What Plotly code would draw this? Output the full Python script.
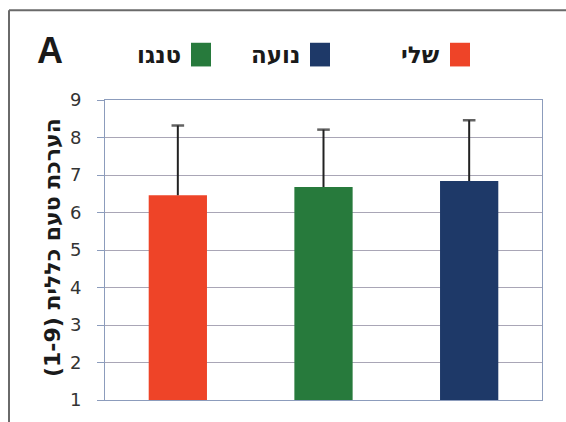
import plotly.graph_objects as go

# Overall taste rating (1-9) per product, with upward standard-deviation bars
categories = ["שלי", "טנגו", "נועה"]
means = [6.46, 6.68, 6.84]
sd = [1.86, 1.53, 1.62]
colors = ["#ee4428", "#277a3c", "#1e3968"]

# Legend entries, drawn right-to-left
legend_names = ["שלי", "נועה", "טנגו"]
legend_colors = ["#ee4428", "#1e3968", "#277a3c"]

y_ticks = [1, 2, 3, 4, 5, 6, 7, 8, 9]

W, H = 566, 422
L, R, T, B = 105, 24, 100, 18
PW, PH = W - L - R, H - T - B


def px_x(x):
    return (x - L) / PW


def px_y(y):
    return (H - B - y) / PH


fig = go.Figure()
fig.add_trace(go.Bar(
    x=categories,
    y=means,
    marker=dict(color=colors, line=dict(width=0)),
    showlegend=False,
    hoverinfo="skip",
))

# Upward error whiskers: a line from the bar top with a cap at mean + sd
for cat, m, s in zip(categories, means, sd):
    fig.add_trace(go.Scatter(
        x=[cat, cat], y=[m, m + s],
        mode="lines+markers",
        line=dict(color="#222222", width=2),
        marker=dict(symbol="line-ew", size=[0, 9], color="#222222",
                    line=dict(color="#222222", width=2.5)),
        showlegend=False, hoverinfo="skip",
    ))

axis_col = "#8c9cbc"
fig.update_layout(
    width=W, height=H,
    margin=dict(l=L, r=R, t=T, b=B),
    paper_bgcolor="white", plot_bgcolor="white",
    bargap=0.6,
    xaxis=dict(showticklabels=False, showgrid=False, showline=True,
               linecolor=axis_col, linewidth=1, mirror=True, ticks=""),
    yaxis=dict(range=[1, 9], tickvals=y_ticks, showgrid=True,
               gridcolor="#a9a6b6", gridwidth=1, showline=True,
               linecolor=axis_col, linewidth=1, mirror=True,
               ticks="outside", ticklen=7, tickcolor=axis_col,
               tickfont=dict(family="DejaVu Sans", size=18, color="#333333"),
               ticklabelstandoff=12, zeroline=False),
    font=dict(family="DejaVu Sans"),
)

# Outer frame of the panel
fig.add_shape(type="line", xref="paper", yref="paper",
              x0=px_x(9), x1=px_x(9), y0=px_y(9), y1=px_y(H + 5),
              line=dict(color="#6a6a6a", width=2))
fig.add_shape(type="line", xref="paper", yref="paper",
              x0=px_x(9), x1=px_x(W + 5), y0=px_y(9), y1=px_y(9),
              line=dict(color="#6a6a6a", width=2))

# Panel letter
fig.add_annotation(x=px_x(50), y=px_y(50), xref="paper", yref="paper",
                   text="A", showarrow=False,
                   font=dict(family="Liberation Sans", size=36,
                             color="#1a1a1a", weight=700),
                   xanchor="center", yanchor="middle")

# Y-axis title
fig.add_annotation(x=px_x(52), y=px_y(250), xref="paper", yref="paper",
                   text="הערכת טעם כללית (1-9)", textangle=-90,
                   showarrow=False,
                   font=dict(family="DejaVu Sans", size=22,
                             color="#1a1a1a", weight=700),
                   xanchor="center", yanchor="middle")

# Legend: square to the right of each label
square_right = [470, 330, 211]
for name, col, sx in zip(legend_names, legend_colors, square_right):
    fig.add_shape(type="rect", xref="paper", yref="paper",
                  x0=px_x(sx - 20), x1=px_x(sx), y0=px_y(66), y1=px_y(42),
                  fillcolor=col, line=dict(width=0))
    fig.add_annotation(x=px_x(sx - 28), y=px_y(54), xref="paper", yref="paper",
                       text=name, showarrow=False,
                       font=dict(family="DejaVu Sans", size=23,
                                 color="#1a1a1a", weight=700),
                       xanchor="right", yanchor="middle")

fig.write_html("out.html")
